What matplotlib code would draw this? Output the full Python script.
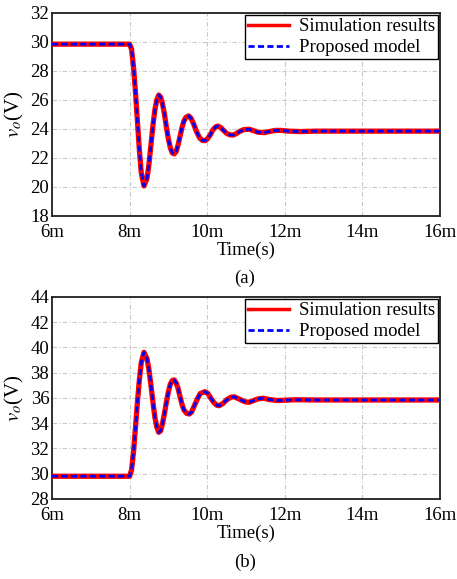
import matplotlib.pyplot as plt

plt.rcParams['font.family'] = ['Liberation Serif', 'DejaVu Serif']
plt.rcParams['mathtext.fontset'] = 'stix'
plt.rcParams['font.size'] = 13.5

# time in ms
t_a = [6.0, 8.0, 8.05, 8.1, 8.15, 8.2, 8.25, 8.3, 8.37, 8.45, 8.5, 8.55, 8.6, 8.65, 8.7,
       8.75, 8.8, 8.85, 8.9, 8.95, 9.0, 9.05, 9.1, 9.15, 9.2, 9.25, 9.3, 9.35, 9.4, 9.45,
       9.52, 9.58, 9.65, 9.72, 9.8, 9.87, 9.94, 10.0, 10.08, 10.15, 10.22, 10.27, 10.35,
       10.42, 10.5, 10.58, 10.67, 10.75, 10.85, 10.95, 11.08, 11.2, 11.3, 11.46, 11.6,
       11.75, 11.9, 12.1, 12.4, 12.8, 16.0]
v_a = [29.85, 29.85, 29.5, 28.3, 26.6, 24.6, 22.6, 21.0, 20.07, 20.6, 21.6, 22.9, 24.2,
       25.3, 26.0, 26.34, 26.2, 25.7, 25.0, 24.1, 23.3, 22.7, 22.35, 22.28, 22.45, 22.9,
       23.5, 24.1, 24.55, 24.8, 24.9, 24.75, 24.35, 23.85, 23.4, 23.22, 23.19, 23.3, 23.6,
       23.95, 24.15, 24.2, 24.1, 23.9, 23.7, 23.6, 23.58, 23.68, 23.85, 23.96, 23.98,
       23.88, 23.78, 23.75, 23.82, 23.9, 23.9, 23.85, 23.82, 23.85, 23.85]

t_b = [6.0, 8.0, 8.05, 8.1, 8.15, 8.2, 8.25, 8.3, 8.37, 8.45, 8.5, 8.55, 8.6, 8.65, 8.7,
       8.75, 8.8, 8.85, 8.9, 8.95, 9.0, 9.05, 9.1, 9.15, 9.2, 9.25, 9.3, 9.35, 9.4, 9.47,
       9.54, 9.6, 9.67, 9.75, 9.82, 9.94, 10.02, 10.1, 10.18, 10.25, 10.31, 10.4, 10.5,
       10.6, 10.69, 10.8, 10.9, 11.0, 11.08, 11.2, 11.3, 11.44, 11.6, 11.8, 12.0, 12.3,
       12.8, 16.0]
v_b = [29.8, 29.8, 30.3, 31.7, 33.6, 35.6, 37.4, 38.8, 39.62, 39.1, 38.2, 37.0, 35.7,
       34.5, 33.7, 33.28, 33.4, 34.0, 34.8, 35.7, 36.5, 37.1, 37.38, 37.43, 37.2, 36.75,
       36.1, 35.5, 35.05, 34.78, 34.73, 34.9, 35.4, 35.95, 36.35, 36.5, 36.35, 35.95, 35.6,
       35.42, 35.39, 35.55, 35.85, 36.05, 36.1, 35.95, 35.8, 35.68, 35.66, 35.8, 35.92,
       35.98, 35.88, 35.8, 35.82, 35.86, 35.84, 35.84]

x_ticks = [6, 8, 10, 12, 14, 16]
x_labels = ['6m', '8m', '10m', '12m', '14m', '16m']

fig = plt.figure(figsize=(4.57, 5.79), dpi=100)
ax_a = fig.add_axes([0.1138, 0.627, 0.849, 0.3506])
ax_b = fig.add_axes([0.1138, 0.1382, 0.849, 0.3489])


def panel(ax, t, v, ylim, yticks):
    ax.plot(t, v, color='#ff0000', lw=3.8, label='Simulation results', zorder=3)
    ax.plot(t, v, color='#0000ff', lw=2.0, ls=(0, (2.2, 1.2)), label='Proposed model', zorder=4)
    ax.set_xlim(6, 16)
    ax.set_ylim(*ylim)
    ax.set_xticks(x_ticks)
    ax.set_xticklabels(x_labels)
    ax.set_yticks(yticks)
    ax.grid(True, color='#c8c8c8', ls=(0, (4, 2, 1, 2)), lw=0.8)
    ax.tick_params(direction='in', length=0)
    ax.tick_params(axis='x', pad=6)
    ax.tick_params(axis='y', pad=2)
    for s in ax.spines.values():
        s.set_linewidth(1.3)
        s.set_color('#202020')
    ax.set_xlabel('Time(s)')
    ax.xaxis.set_label_coords(0.5, -0.128)
    ax.set_ylabel(r'$v_o$(V)', fontsize=15)
    ax.yaxis.set_label_coords(-0.068, 0.5)
    leg = ax.legend(loc='upper right', fancybox=False, edgecolor='black', framealpha=1,
                    borderaxespad=0.13, handlelength=2.2, borderpad=0.15,
                    labelspacing=0.2, handletextpad=0.5)
    leg.get_frame().set_linewidth(1.0)
    leg.get_lines()[0].set_linewidth(2.5)


panel(ax_a, t_a, v_a, (18, 32), range(18, 33, 2))
panel(ax_b, t_b, v_b, (28, 44), range(28, 45, 2))

fig.text(0.536, 1 - 278 / 579, '(a)', ha='center', va='center')
fig.text(0.536, 1 - 562 / 579, '(b)', ha='center', va='center')

fig.savefig('out.png', dpi=100)
